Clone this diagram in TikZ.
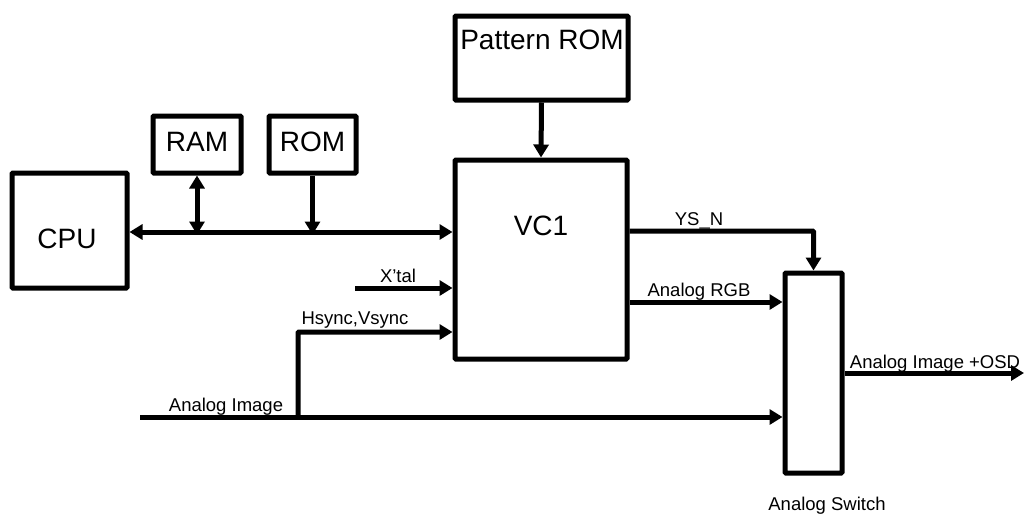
\documentclass[tikz,border=0pt]{standalone}
\usepackage{fontspec}
\setmainfont{Liberation Sans}
\usetikzlibrary{arrows.meta}
\begin{document}
\begin{tikzpicture}[x=1pt,y=-1pt,
  blk/.style={draw=black,line width=5pt,rounded corners=1pt,inner sep=0pt,fill=white},
  sig/.style={line width=5pt,-{Triangle[length=13pt,width=15pt]}},
  bisig/.style={line width=5pt,{Triangle[length=13pt,width=15pt]}-{Triangle[length=13pt,width=15pt]}},
  big/.style={inner sep=0pt,anchor=base,font=\fontsize{28}{30}\selectfont},
  small/.style={inner sep=0pt,anchor=base,font=\fontsize{18.5}{20}\selectfont}]
\useasboundingbox (0,0) rectangle (1026,514);
% blocks
\node[blk,minimum width=115pt,minimum height=115pt] (cpu) at (69.5,230.5) {};
\node[blk,minimum width=88pt,minimum height=57pt] (ram) at (197,144.5) {};
\node[blk,minimum width=87pt,minimum height=57pt] (rom) at (312.5,144.5) {};
\node[blk,minimum width=173pt,minimum height=84pt] (prom) at (541.5,58) {};
\node[blk,minimum width=172pt,minimum height=199pt] (vc) at (541,259.5) {};
\node[blk,minimum width=57pt,minimum height=200pt] (sw) at (813.5,373) {};
% block texts
\node[big] (tcpu) at (67,248) {CPU};
\node[big] (tram) at (197,151) {RAM};
\node[big] (trom) at (312.5,151) {ROM};
\node[big] (tprom) at (542,49) {Pattern ROM};
\node[big] (tvc) at (541,235) {VC1};
% coordinates
\coordinate (bus) at (0,232);
\coordinate (xtal) at (355,288);
\coordinate (hs) at (298,417);
\coordinate (hsy) at (0,332);
\coordinate (ai) at (140,417);
\coordinate (ys) at (0,231);
\coordinate (rgb) at (0,302);
\coordinate (out) at (1024,373);
% connectors
\draw[bisig] (cpu.east |- bus) -- (vc.west |- bus);
\draw[bisig] (ram.south) -- ([yshift=-2.5pt]ram.south |- bus);
\draw[sig] (rom.south) -- ([yshift=-2.5pt]rom.south |- bus);
\draw[sig] (prom.south) -- (vc.north);
\draw[sig] (xtal) -- (vc.west |- xtal);
\draw[sig,rounded corners=1pt] (hs) |- (vc.west |- hsy);
\draw[sig] (ai) -- (sw.west |- ai);
\draw[sig,rounded corners=1pt] (vc.east |- ys) -| (sw.north);
\draw[sig] (vc.east |- rgb) -- (sw.west |- rgb);
\draw[sig] (sw.east |- out) -- (out);
% labels
\node[small] (lxtal) at (398,282) {X’tal};
\node[small] (lhs) at (355,324) {Hsync,Vsync};
\node[small] (lai) at (226,411) {Analog Image};
\node[small] (lys) at (699,225) {YS\_N};
\node[small] (lrgb) at (699,296) {Analog RGB};
\node[small] (lout) at (935,368) {Analog Image +OSD};
\node[small] (lsw) at (827,510) {Analog Switch};
\end{tikzpicture}
\end{document}
